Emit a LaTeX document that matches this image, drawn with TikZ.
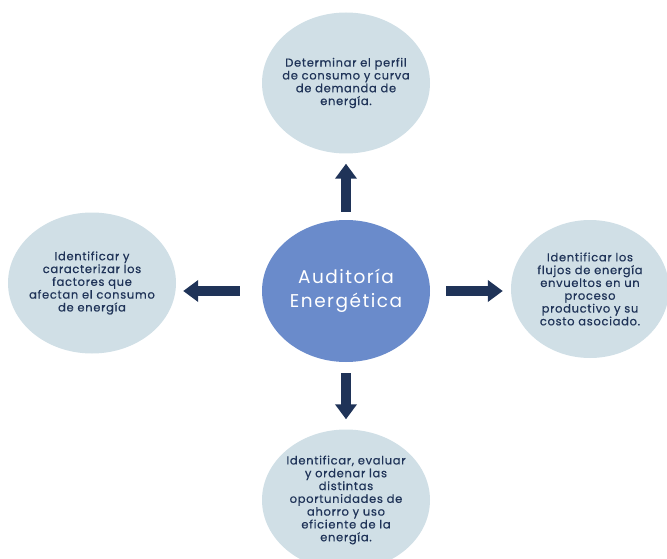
\documentclass[tikz,border=0pt]{standalone}
\usepackage{fontspec}
\setmainfont{Poppins}
\newfontfamily\goalfont{Poppins}[LetterSpace=6, FakeBold=0.5]
\newfontfamily\hubfont{Poppins}[LetterSpace=8]
\usetikzlibrary{arrows.meta, shapes.geometric}

\definecolor{navy}{HTML}{1F3358}
\definecolor{pale}{HTML}{D0DFE6}
\definecolor{midblue}{HTML}{6A8BCB}

\tikzset{
  goal/.style={ellipse, fill=pale, minimum width=168pt, minimum height=141pt, inner sep=0pt},
  goaltext/.style={text=navy, align=center, font=\goalfont\fontsize{11.5}{12.8}\selectfont},
  hub/.style={ellipse, fill=midblue, minimum width=168pt, minimum height=142pt, inner sep=0pt},
  hubtext/.style={text=white, align=center, font=\hubfont\fontsize{18.5}{24}\selectfont},
  flow/.style={draw=navy, line width=10pt, -{Triangle[width=21pt, length=15pt]}}
}

\begin{document}
\begin{tikzpicture}[x=1pt, y=-1pt]
\useasboundingbox (0,0) rectangle (667,559);
\clip (0,0) rectangle (667,559);

% center
\node[hub, label={[hubtext]center:{Auditoría\\Energética}}] (audit) at (346,291) {};

% goals
\node[goal, label={[goaltext]center:{Determinar el perfil\\de consumo y curva\\de demanda de\\energía.}}] (perfil) at (346,83) {};
\node[goal, label={[goaltext]center:{Identificar y\\caracterizar los\\factores que\\afectan el consumo\\de energía}}] (factores) at (92,283) {};
\node[goal, minimum width=158pt, minimum height=138pt, label={[goaltext]center:{Identificar los\\flujos de energía\\envueltos en un\\proceso\\productivo y su\\costo asociado.}}] (flujos) at (590,289) {};
\node[goal, label={[goaltext]center:{Identificar, evaluar\\y ordenar las\\distintas\\oportunidades de\\ahorro y uso\\eficiente de la\\energía.}}] (ahorro) at (346,500) {};

% arrows
\draw[flow, shorten <=8pt, shorten >=10pt] (audit.north) -- (perfil.south);
\draw[flow, shorten <=11pt, shorten >=10pt] (audit.south) -- (ahorro.north);
\draw[flow, shorten <=22pt, shorten >=7pt] (audit.west) -- (audit.west -| factores.east);
\draw[flow, shorten <=16pt, shorten >=8pt] (audit.east) -- (audit.east -| flujos.west);

\end{tikzpicture}
\end{document}
